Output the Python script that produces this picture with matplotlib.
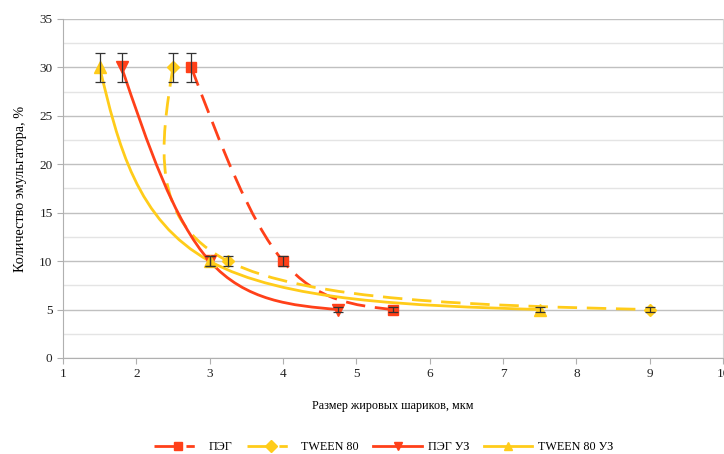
import numpy as np
import matplotlib
matplotlib.use('Agg')
import matplotlib.pyplot as plt
from matplotlib.path import Path
from matplotlib.patches import PathPatch
from matplotlib.lines import Line2D

plt.rcParams['font.family'] = ['Liberation Serif', 'DejaVu Serif']

# Data
peg_x = [2.75, 4.0, 5.5]
peg_y = [30, 10, 5]
tween_x = [2.5, 3.25, 9.0]
tween_y = [30, 10, 5]
peg_uz_x = [1.8, 3.0, 4.75]
peg_uz_y = [30, 10, 5]
tween_uz_x = [1.5, 3.0, 7.5]
tween_uz_y = [30, 10, 5]
err = [1.5, 0.5, 0.3]

labels = ['ПЭГ', 'TWEEN 80', 'ПЭГ УЗ', 'TWEEN 80 УЗ']
RED = '#ff4019'
YEL = '#ffcc1a'


def smooth_path(xs, ys):
    # smoothed line like in Excel: cardinal bezier, natural ends
    p = np.column_stack([xs, ys]).astype(float)
    n = len(p)
    tang = np.zeros_like(p)
    for i in range(1, n - 1):
        tang[i] = (p[i + 1] - p[i - 1]) / 2.0
    tang[0] = (3 * (p[1] - p[0]) - tang[1]) / 2.0
    tang[-1] = (3 * (p[-1] - p[-2]) - tang[-2]) / 2.0
    verts = [p[0]]
    codes = [Path.MOVETO]
    for i in range(n - 1):
        verts += [p[i] + tang[i] / 3.0, p[i + 1] - tang[i + 1] / 3.0, p[i + 1]]
        codes += [Path.CURVE4] * 3
    return Path(verts, codes)


fig = plt.figure(figsize=(7.24, 4.54), dpi=100)
ax = fig.add_axes([0.087, 0.2115, 0.9116, 0.7467])

dash = (0, (7, 3.5))
leg_dash = (0, (9, 2.5, 3, 20))
series = [
    (peg_x, peg_y, RED, dash, 's', 7.5),
    (tween_x, tween_y, YEL, dash, 'D', 6),
    (peg_uz_x, peg_uz_y, RED, '-', 'v', 8),
    (tween_uz_x, tween_uz_y, YEL, '-', '^', 8),
]

handles = []
for (xs, ys, c, ls, m, ms), lab in zip(series, labels):
    patch = PathPatch(smooth_path(xs, ys), facecolor='none', edgecolor=c,
                      lw=2.0, linestyle=ls, capstyle='butt', zorder=3)
    ax.add_patch(patch)
    ax.plot(xs, ys, linestyle='none', marker=m, color=c, ms=ms, zorder=4)
    ax.errorbar(xs, ys, yerr=err, fmt='none', ecolor='#333333', elinewidth=0.9,
                capsize=3.5, capthick=0.9, zorder=5)
    handles.append(Line2D([], [], color=c, lw=2.0,
                          linestyle=leg_dash if ls != '-' else '-',
                          marker=m, ms=6))

ax.set_xlim(1, 10)
ax.set_ylim(0, 35)
ax.set_xticks(range(1, 11))
ax.set_yticks(range(0, 36, 5))
ax.set_yticks(np.arange(2.5, 35, 5), minor=True)
ax.grid(axis='y', which='major', color='#c0c0c0', lw=1.0, zorder=0)
ax.grid(axis='y', which='minor', color='#e4e4e4', lw=1.0, zorder=0)
ax.tick_params(axis='both', which='major', length=4, color='#b0b0b0',
               labelsize=9.5, labelcolor='#222222')
ax.tick_params(axis='y', which='minor', length=0)
for s in ['left', 'bottom']:
    ax.spines[s].set_color('#b0b0b0')
ax.spines['right'].set_color('#d8d8d8')
ax.spines['top'].set_visible(False)

ax.set_xlabel('Размер жировых шариков, мкм', fontsize=8.7, labelpad=14)
ax.set_ylabel('Количество эмульгатора, %', fontsize=10.3, labelpad=9)

fig.legend(handles=handles, labels=labels, loc='center', ncol=4,
           bbox_to_anchor=(0.53, 0.015), frameon=False, fontsize=8.7,
           handlelength=4.0, columnspacing=1.2, handletextpad=0.5)

fig.savefig('out.png', dpi=100)
